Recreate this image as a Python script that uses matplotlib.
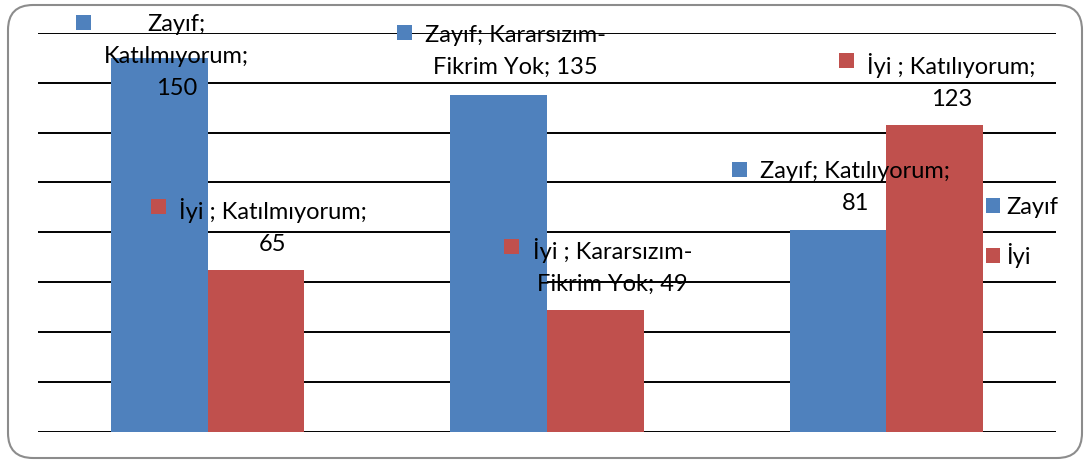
import textwrap

import matplotlib
matplotlib.use("Agg")
import matplotlib.pyplot as plt
from matplotlib.patches import FancyBboxPatch, Rectangle
from matplotlib.offsetbox import AnnotationBbox, DrawingArea, HPacker, TextArea

categories = ["Katılmıyorum", "Kararsızım-Fikrim Yok", "Katılıyorum"]
series_names = ["Zayıf", "İyi "]
zayif = [150, 135, 81]
iyi = [65, 49, 123]
colors = ["#4F81BD", "#C0504D"]

# line width used to wrap each data label, and how far above the bar it sits (pixels)
wrap_widths = [[13, 18, 19], [19, 17, 18]]
label_lift = [[1, 44, 42], [43, 43, 44]]

FONT = "Lato"
FS = 17
LINESPACING = 1.65

fig = plt.figure(figsize=(10.88, 4.63), dpi=100)
ax = fig.add_axes([38 / 1088, 1 - 431.7 / 463, 1018 / 1088, 398.9 / 463])

# rounded frame around the whole chart
frame = FancyBboxPatch((8 / 1088, 5 / 463), 1074 / 1088, 453 / 463,
                       boxstyle="round,pad=0,rounding_size=0.023",
                       transform=fig.transFigure, facecolor="none",
                       edgecolor="#8c8c8c", linewidth=1.5, mutation_aspect=1088 / 463)
fig.patches.append(frame)

width = 0.2845
xs = list(range(len(categories)))
all_values = [zayif, iyi]
containers = []
for i, vals in enumerate(all_values):
    offs = (i - 0.5) * width
    bars = ax.bar([x + offs for x in xs], vals, width=width, color=colors[i],
                  label=series_names[i].strip(), zorder=3)
    containers.append(bars)

ax.set_xlim(-0.5, 2.5)
ax.set_ylim(0, 160)
ax.set_yticks(range(0, 161, 20))
ax.yaxis.grid(True, color="black", linewidth=1.4, zorder=0)
ax.set_axisbelow(True)
ax.tick_params(left=False, bottom=False, labelleft=False, labelbottom=False)
for s in ax.spines.values():
    s.set_visible(False)

# data labels: colour key + "series; category; value"
for i, vals in enumerate(all_values):
    for j, v in enumerate(vals):
        bar = containers[i][j]
        cx = bar.get_x() + bar.get_width() / 2
        txt = textwrap.fill(f"{series_names[i]}; {categories[j]}; {v}", wrap_widths[i][j])
        ta = TextArea(txt, textprops=dict(fontsize=FS, family=FONT, color="black",
                                          multialignment="center",
                                          linespacing=LINESPACING))
        key = DrawingArea(10.8, 19, 0, 0)
        key.add_artist(Rectangle((0, 7.6), 10.8, 10.8, facecolor=colors[i],
                                 edgecolor="none"))
        box = HPacker(children=[key, ta], align="top", pad=0, sep=9.4)
        ab = AnnotationBbox(box, (cx, v), xybox=(3, label_lift[i][j]),
                            xycoords="data", boxcoords="offset pixels",
                            frameon=False, box_alignment=(0.5, 0.5),
                            annotation_clip=False, zorder=5)
        ax.add_artist(ab)

ax.legend(loc="center left", bbox_to_anchor=(0.931, 0.5), frameon=False,
          prop=dict(family=FONT, size=FS), handlelength=0.62, handleheight=0.62,
          handletextpad=0.25, labelspacing=1.05, borderpad=0, borderaxespad=0)

fig.savefig("out.png", dpi=100)
